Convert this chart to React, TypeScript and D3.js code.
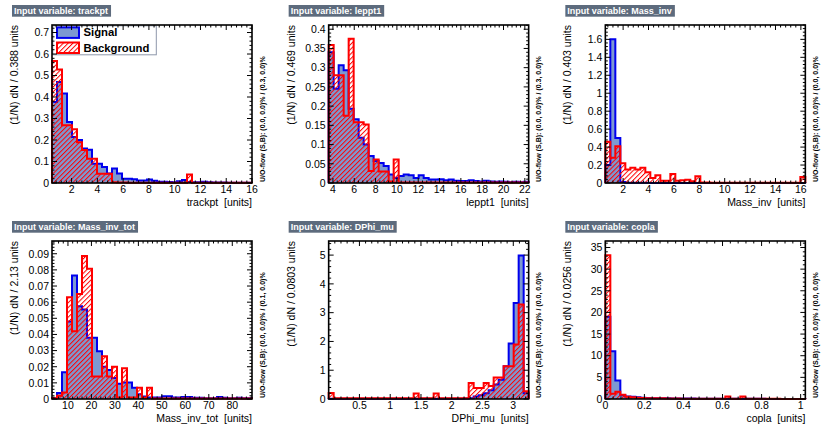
import React, { useRef, useEffect } from 'react';
import * as d3 from 'd3';

const WIDTH = 830;
const HEIGHT = 432;
const FONT = '"Liberation Sans", Arial, Helvetica, sans-serif';

const variables = ['trackpt', 'leppt1', 'Mass_inv', 'Mass_inv_tot', 'DPhi_mu', 'copla'];
const binWidthLabels = ['0.388', '0.469', '0.403', '2.13', '0.0803', '0.0256'];
const overflowLabels = [
  '(0.0, 0.0)% / (0.3, 0.0)%',
  '(0.0, 0.0)% / (0.3, 0.0)%',
  '(0.0, 0.0)% / (0.0, 0.0)%',
  '(0.0, 0.0)% / (0.1, 0.0)%',
  '(0.0, 0.0)% / (0.0, 0.0)%',
  '(0.0, 0.0)% / (0.0, 0.0)%'
];
const xRanges: [number, number][] = [[0.48, 16], [3.6, 22.36], [0.6, 16.35], [3.2, 88.4], [0, 3.25], [0, 1.024]];
const yMaxima = [0.735, 0.411, 1.76, 0.0979, 5.49, 36.5];

const xTickLabels = [
  [2, 4, 6, 8, 10, 12, 14, 16],
  [4, 6, 8, 10, 12, 14, 16, 18, 20, 22],
  [2, 4, 6, 8, 10, 12, 14, 16],
  [10, 20, 30, 40, 50, 60, 70, 80],
  [0.5, 1, 1.5, 2, 2.5, 3],
  [0, 0.2, 0.4, 0.6, 0.8, 1]
];
const yTickLabels = [
  [0, 0.1, 0.2, 0.3, 0.4, 0.5, 0.6, 0.7],
  [0, 0.05, 0.1, 0.15, 0.2, 0.25, 0.3, 0.35, 0.4],
  [0, 0.2, 0.4, 0.6, 0.8, 1, 1.2, 1.4, 1.6],
  [0, 0.01, 0.02, 0.03, 0.04, 0.05, 0.06, 0.07, 0.08, 0.09],
  [0, 1, 2, 3, 4, 5],
  [0, 5, 10, 15, 20, 25, 30, 35]
];
const xMinorSteps = [0.4, 0.4, 0.4, 2, 0.1, 0.04];
const yMinorSteps = [0.02, 0.01, 0.04, 0.002, 0.2, 1];

// 40 bins per variable
const trackptSignal = [
  0.377, 0.47, 0.416, 0.284, 0.214, 0.2, 0.16, 0.155, 0.09, 0.09,
  0.074, 0.044, 0.067, 0.044, 0.02, 0.02, 0.018, 0.012, 0.012, 0.016,
  0.01, 0.006, 0.006, 0.005, 0.004, 0.008, 0.014, 0.005, 0.003, 0.003,
  0.006, 0.003, 0.002, 0.002, 0.002, 0.001, 0.001, 0.001, 0.001, 0.001
];
const trackptBackground = [
  0.567, 0.528, 0.269, 0.269, 0.25, 0.19, 0.153, 0.113, 0.113, 0.043,
  0.043, 0.043, 0.003, 0.002, 0.002, 0.001, 0.001, 0.001, 0.001, 0.001,
  0.001, 0.001, 0.001, 0.001, 0.001, 0.001, 0.001, 0.04, 0.001, 0.001,
  0.001, 0.001, 0.001, 0.001, 0.001, 0.001, 0.001, 0.001, 0.001, 0.001
];
const leppt1Signal = [
  0.34, 0.245, 0.306, 0.293, 0.193, 0.166, 0.118, 0.1, 0.07, 0.057,
  0.052, 0.044, 0.022, 0.013, 0.018, 0.022, 0.02, 0.013, 0.02, 0.013,
  0.009, 0.009, 0.01, 0.007, 0.009, 0.006, 0.005, 0.005, 0.007, 0.005,
  0.004, 0.006, 0.004, 0.003, 0.004, 0.003, 0.002, 0.003, 0.002, 0.003
];
const leppt1Background = [
  0.359, 0.28, 0.28, 0.175, 0.375, 0.158, 0.158, 0.152, 0.031, 0.061,
  0.03, 0.03, 0.004, 0.061, 0.001, 0.001, 0.001, 0.001, 0.001, 0.001,
  0.001, 0.001, 0.001, 0.001, 0.001, 0.001, 0.001, 0.001, 0.001, 0.001,
  0.001, 0.001, 0.001, 0.001, 0.001, 0.001, 0.001, 0.001, 0.001, 0.001
];
const massInvSignal = [
  0.2, 1.6, 0.5, 0.01, 0.004, 0.003, 0.002, 0.002, 0.002, 0.001,
  0.001, 0.001, 0.001, 0.001, 0.001, 0.001, 0.001, 0.001, 0.001, 0.001,
  0.001, 0.001, 0.001, 0.001, 0.001, 0.001, 0.001, 0.001, 0.001, 0.001,
  0.001, 0.001, 0.001, 0.001, 0.001, 0.001, 0.001, 0.001, 0.001, 0.001
];
const massInvBackground = [
  0.46, 0.28, 0.41, 0.22, 0.15, 0.17, 0.15, 0.17, 0.12, 0.055,
  0.085, 0.026, 0.026, 0.1, 0.026, 0.03, 0.035, 0.02, 0.075, 0.005,
  0.005, 0.004, 0.004, 0.004, 0.003, 0.003, 0.003, 0.003, 0.003, 0.003,
  0.003, 0.003, 0.003, 0.003, 0.003, 0.003, 0.003, 0.003, 0.003, 0.067
];
const massInvTotSignal = [
  0.0005, 0.0037, 0.0166, 0.048, 0.0766, 0.0575, 0.0555, 0.038, 0.038, 0.0296,
  0.02, 0.018, 0.013, 0.0095, 0.0103, 0.0103, 0.007, 0.003, 0.0016, 0.001,
  0.001, 0.001, 0.0017, 0.0017, 0.001, 0.001, 0.0012, 0.0012, 0.0008, 0.0008,
  0.0005, 0.0005, 0.0005, 0.0012, 0.0008, 0.0005, 0.0005, 0.0008, 0.0005, 0.0005
];
const massInvTotBackground = [
  0.0005, 0.002, 0.004, 0.063, 0.042, 0.065, 0.0886, 0.0807, 0.014, 0.014,
  0.0265, 0.014, 0.02, 0.001, 0.019, 0.001, 0.001, 0.007, 0.001, 0.007,
  0.0003, 0.0003, 0.0003, 0.0003, 0.0003, 0.0003, 0.0003, 0.0003, 0.0003, 0.0003,
  0.0003, 0.0003, 0.0003, 0.0003, 0.0003, 0.0003, 0.0003, 0.0003, 0.0003, 0.0003
];
const dphiSignal = [
  0.005, 0.005, 0.005, 0.005, 0.005, 0.005, 0.005, 0.005, 0.005, 0.005,
  0.005, 0.005, 0.005, 0.005, 0.005, 0.005, 0.005, 0.005, 0.005, 0.005,
  0.005, 0.005, 0.005, 0.005, 0.005, 0.005, 0.01, 0.02, 0.03, 0.09,
  0.13, 0.2, 0.3, 0.5, 0.67, 1.14, 1.93, 3.34, 4.99, 0.2
];
const dphiBackground = [
  0.21, 0.03, 0.03, 0.03, 0.03, 0.03, 0.03, 0.03, 0.03, 0.03,
  0.03, 0.03, 0.03, 0.03, 0.03, 0.03, 0.03, 0.19, 0.03, 0.03,
  0.03, 0.19, 0.03, 0.03, 0.03, 0.03, 0.03, 0.03, 0.56, 0.38,
  0.38, 0.56, 0.45, 0.75, 0.75, 1.14, 1.14, 1.89, 3.28, 0.27
];
const coplaSignal = [
  19, 11.05, 4.3, 0.85, 0.6, 0.5, 0.4, 0.3, 0.25, 0.2,
  0.2, 0.15, 0.15, 0.12, 0.12, 0.1, 0.1, 0.1, 0.08, 0.08,
  0.06, 0.06, 0.05, 0.05, 0.05, 0.04, 0.04, 0.04, 0.03, 0.03,
  0.03, 0.03, 0.02, 0.02, 0.02, 0.02, 0.02, 0.01, 0.01, 0.01
];
const coplaBackground = [
  33.2, 1.2, 1.7, 1.0, 0.5, 0.4, 0.3, 0.25, 0.2, 0.2,
  0.15, 0.15, 0.1, 0.1, 0.1, 0.08, 0.08, 0.08, 0.06, 0.06,
  0.06, 0.05, 0.05, 0.05, 0.6, 0.05, 0.05, 0.6, 0.04, 0.04,
  0.04, 0.03, 0.03, 0.03, 0.03, 0.02, 0.02, 0.02, 0.02, 0.02
];

const signalSeries = [trackptSignal, leppt1Signal, massInvSignal, massInvTotSignal, dphiSignal, coplaSignal];
const backgroundSeries = [trackptBackground, leppt1Background, massInvBackground, massInvTotBackground, dphiBackground, coplaBackground];

const SIG_LINE = '#0000ee';
const SIG_FILL = '#7d99d1';
const BKG_LINE = '#ff0000';
const TITLE_BOX = '#5d6b7d';

const fmt = (v: number) => String(+v.toFixed(6));

const App: React.FC = () => {
  const ref = useRef<SVGSVGElement | null>(null);

  useEffect(() => {
    if (!ref.current) return;
    const svg = d3.select(ref.current);
    svg.selectAll('*').remove();

    svg.append('rect').attr('width', WIDTH).attr('height', HEIGHT).attr('fill', '#ffffff');

    const pat = svg
      .append('defs')
      .append('pattern')
      .attr('id', 'bkgHatch')
      .attr('patternUnits', 'userSpaceOnUse')
      .attr('width', 3.4)
      .attr('height', 3.4)
      .attr('patternTransform', 'rotate(45)');
    pat.append('rect').attr('width', 1).attr('height', 3.4).attr('fill', BKG_LINE);

    const padW = WIDTH / 3;
    const padH = HEIGHT / 2;
    const fw = 200;
    const fh = 158;

    variables.forEach((name, i) => {
      const padX = (i % 3) * padW;
      const padY = Math.floor(i / 3) * padH;
      const left = padX + 52;
      const top = padY + 25;

      const [xmin, xmax] = xRanges[i];
      const x = d3.scaleLinear().domain([xmin, xmax]).range([left, left + fw]);
      const y = d3.scaleLinear().domain([0, yMaxima[i]]).range([top + fh, top]);
      const nb = signalSeries[i].length;
      const edges = d3.range(nb + 1).map(k => xmin + (k * (xmax - xmin)) / nb);

      const stepPath = (vals: number[]) => {
        let d = `M${x(edges[0])},${y(0)}`;
        vals.forEach((v, k) => {
          d += `L${x(edges[k])},${y(v)}L${x(edges[k + 1])},${y(v)}`;
        });
        return d + `L${x(edges[nb])},${y(0)}`;
      };

      const g = svg.append('g');

      // histograms: signal first, background hatched on top
      g.append('path').attr('d', stepPath(signalSeries[i])).attr('fill', SIG_FILL).attr('stroke', 'none');
      g.append('path').attr('d', stepPath(signalSeries[i])).attr('fill', 'none')
        .attr('stroke', SIG_LINE).attr('stroke-width', 2);
      g.append('path').attr('d', stepPath(backgroundSeries[i])).attr('fill', 'url(#bkgHatch)').attr('stroke', 'none');
      g.append('path').attr('d', stepPath(backgroundSeries[i])).attr('fill', 'none')
        .attr('stroke', BKG_LINE).attr('stroke-width', 2);

      // legend in first pad, under the frame ticks
      if (i === 0) {
        const lg = g.append('g').attr('font-family', FONT);
        lg.append('rect').attr('x', left + 0.8).attr('y', top + 0.8).attr('width', 103.5).attr('height', 29)
          .attr('fill', '#ffffff').attr('stroke', '#8e97aa').attr('stroke-width', 1);
        lg.append('rect').attr('x', left + 5).attr('y', top + 2.4).attr('width', 22).attr('height', 10.5)
          .attr('fill', SIG_FILL).attr('stroke', SIG_LINE).attr('stroke-width', 2);
        lg.append('rect').attr('x', left + 5).attr('y', top + 17.5).attr('width', 22).attr('height', 10.5)
          .attr('fill', 'url(#bkgHatch)').attr('stroke', BKG_LINE).attr('stroke-width', 2);
        lg.append('text').attr('x', left + 31.5).attr('y', top + 11.3)
          .attr('font-size', 11.3).attr('font-weight', 'bold').text('Signal');
        lg.append('text').attr('x', left + 31.5).attr('y', top + 26.8)
          .attr('font-size', 11.3).attr('font-weight', 'bold').text('Background');
      }

      // frame
      g.append('rect')
        .attr('x', left).attr('y', top).attr('width', fw).attr('height', fh)
        .attr('fill', 'none').attr('stroke', '#000').attr('stroke-width', 1.6);

      // ticks on all four sides
      const ticks = g.append('g').attr('stroke', '#000').attr('stroke-width', 1);
      const minors = (lo: number, hi: number, s: number) =>
        d3.range(Math.ceil(lo / s - 1e-6), Math.floor(hi / s + 1e-6) + 1).map(k => k * s);
      const xMaj = xTickLabels[i];
      const yMaj = yTickLabels[i];
      minors(xmin, xmax, xMinorSteps[i]).forEach(v => {
        const len = xMaj.some(m => Math.abs(m - v) < 1e-6) ? 5 : 2.5;
        ticks.append('line').attr('x1', x(v)).attr('x2', x(v)).attr('y1', top + fh).attr('y2', top + fh - len);
        ticks.append('line').attr('x1', x(v)).attr('x2', x(v)).attr('y1', top).attr('y2', top + len);
      });
      minors(0, yMaxima[i], yMinorSteps[i]).forEach(v => {
        const len = yMaj.some(m => Math.abs(m - v) < 1e-9) ? 5 : 2.5;
        ticks.append('line').attr('x1', left).attr('x2', left + len).attr('y1', y(v)).attr('y2', y(v));
        ticks.append('line').attr('x1', left + fw).attr('x2', left + fw - len).attr('y1', y(v)).attr('y2', y(v));
      });

      const txt = g.append('g').attr('font-family', FONT).attr('fill', '#000');
      xMaj.forEach(v => {
        txt.append('text').attr('x', x(v)).attr('y', top + fh + 10)
          .attr('text-anchor', 'middle').attr('font-size', 10.5).text(fmt(v));
      });
      yMaj.forEach(v => {
        txt.append('text').attr('x', left - 3).attr('y', y(v)).attr('dy', '0.36em')
          .attr('text-anchor', 'end').attr('font-size', 10.5).text(fmt(v));
      });

      // axis titles
      txt.append('text')
        .attr('transform', `translate(${left - 34},${top}) rotate(-90)`)
        .attr('text-anchor', 'end').attr('font-size', 10.5)
        .text(`(1/N) dN / ${binWidthLabels[i]} units`);
      txt.append('text')
        .attr('x', left + fw).attr('y', padY + 206)
        .attr('text-anchor', 'end').attr('font-size', 10.5)
        .text(`${name}\u00a0 [units]`);
      txt.append('text')
        .attr('transform', `translate(${left + fw + 12.5},${top + fh - 1}) rotate(-90)`)
        .attr('text-anchor', 'start').attr('font-size', 7).attr('font-weight', 'bold')
        .text(`U/O-flow (S,B): ${overflowLabels[i]}`);

      // title box
      const title = svg.append('text')
        .attr('x', left - 38).attr('y', padY + 14.3)
        .attr('font-family', FONT).attr('font-size', 9).attr('font-weight', 'bold')
        .attr('fill', '#ffffff')
        .text(`Input variable: ${name}`);
      const tw = (title.node() as SVGTextElement).getComputedTextLength();
      svg.insert('rect', () => title.node() as SVGTextElement)
        .attr('x', left - 40).attr('y', padY + 5).attr('width', tw + 5).attr('height', 11.7)
        .attr('fill', TITLE_BOX);
    });
  }, []);

  return (
    <svg
      ref={ref}
      width={WIDTH}
      height={HEIGHT}
      viewBox={`0 0 ${WIDTH} ${HEIGHT}`}
      style={{ position: 'absolute', left: 0, top: 0, display: 'block' }}
    />
  );
};

export default App;
